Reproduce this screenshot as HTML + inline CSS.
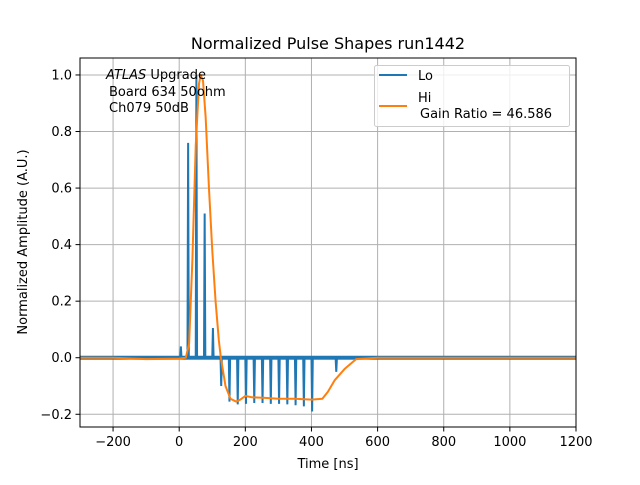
<!DOCTYPE html>
<html><head><meta charset="utf-8"><style>
body{margin:0;background:#fff}
svg text{font-family:"DejaVu Sans","Liberation Sans",sans-serif}
</style></head><body>
<svg id="c" width="640" height="480" xmlns="http://www.w3.org/2000/svg"></svg>
<script>
const xTicks=[-200,0,200,400,600,800,1000,1200];
const yTicks=[-0.2,0.0,0.2,0.4,0.6,0.8,1.0];
const loSpikeT=[5,27,52,77,102,127,152,177,202,227,252,277,302,327,352,377,402,475];
const loSpikeV=[0.04,0.76,1.0,0.51,0.105,-0.1,-0.155,-0.165,-0.163,-0.16,-0.16,-0.163,-0.163,-0.165,-0.168,-0.172,-0.19,-0.05];
const hiT=[-300,-200,-100,0,20,30,40,50,60,65,72,80,90,100,110,120,126,140,155,172,185,200,220,260,300,350,400,433,450,470,500,535,600,800,1000,1200];
const hiV=[0,0,-0.005,-0.003,0,0.05,0.35,0.75,0.97,1.0,0.98,0.85,0.6,0.38,0.2,0.06,0,-0.1,-0.145,-0.155,-0.148,-0.135,-0.14,-0.142,-0.145,-0.145,-0.148,-0.145,-0.12,-0.08,-0.04,-0.005,0,0,0,0];
const L=80,R=576,T=58,B=427;
const X=v=>L+(v+300)/1500*(R-L);
const Y=v=>T+(1.06-v)/1.305*(B-T);
const svg=document.getElementById('c');const NS='http://www.w3.org/2000/svg';
function mk(t,a,p){const e=document.createElementNS(NS,t);for(const k in a)e.setAttribute(k,a[k]);(p||svg).appendChild(e);return e;}
function tx(x,y,s,anchor,size){const e=mk('text',{x:x,y:y,'text-anchor':anchor||'middle','font-size':size||13});e.textContent=s;return e;}
mk('rect',{x:0,y:0,width:640,height:480,fill:'#fff'});
xTicks.forEach(v=>{const g=mk('line',{x1:X(v),x2:X(v),y1:T,y2:B,stroke:'#b0b0b0','stroke-width':1});


mk('line',{x1:X(v),x2:X(v),y1:B,y2:B+4.5,stroke:'#000','stroke-width':1});
const t=tx(X(v),B+19,(v<0?'\u2212'+(-v):v));

});
yTicks.forEach(v=>{const g=mk('line',{x1:L,x2:R,y1:Y(v),y2:Y(v),stroke:'#b0b0b0','stroke-width':1});


mk('line',{x1:L-4.5,x2:L,y1:Y(v),y2:Y(v),stroke:'#000','stroke-width':1});
const t=tx(L-8,Y(v)+4.5,(v<0?'\u2212':'')+Math.abs(v).toFixed(1),'end');

});
const clip=mk('clipPath',{id:'cp'});mk('rect',{x:L,y:T,width:R-L,height:B-T},clip);
let lo=[[-300,0]];loSpikeT.forEach((t,i)=>{lo.push([t-2,0],[t,loSpikeV[i]],[t+2,0]);});lo.push([1200,0]);
const loBand=mk('polyline',{points:lo.map(p=>X(p[0])+','+Y(p[1])).join(' '),fill:'none',stroke:'#1f77b4','stroke-width':2,'clip-path':'url(#cp)'});


const nb=mk('rect',{x:L,y:Y(0.007),width:R-L,height:Y(-0.007)-Y(0.007),fill:'#1f77b4','clip-path':'url(#cp)'});


const hi=mk('polyline',{points:hiT.map((t,i)=>X(t)+','+Y(hiV[i])).join(' '),fill:'none',stroke:'#ff7f0e','stroke-width':2,'stroke-linejoin':'round','clip-path':'url(#cp)'});


mk('rect',{x:L,y:T,width:R-L,height:B-T,fill:'none',stroke:'#000','stroke-width':1,});
</script>
<svg width="640" height="480" style="position:absolute;left:0;top:0" xmlns="http://www.w3.org/2000/svg">
<text x="328" y="49" text-anchor="middle" font-size="16" font-family="DejaVu Sans,sans-serif">Normalized Pulse Shapes run1442</text>
<text x="328" y="468" text-anchor="middle" font-size="13" font-family="DejaVu Sans,sans-serif">Time [ns]</text>
<text x="27" y="242" text-anchor="middle" font-size="13" font-family="DejaVu Sans,sans-serif" transform="rotate(-90 27 242)">Normalized Amplitude (A.U.)</text>
<g font-size="13" font-family="DejaVu Sans,sans-serif">
<text x="106" y="79"><tspan font-style="italic">ATLAS</tspan> Upgrade</text>
<text x="109" y="96">Board 634 50ohm</text>
<text x="109" y="112">Ch079 50dB</text>
</g>
<g font-size="13" font-family="DejaVu Sans,sans-serif">
<rect x="374.5" y="65.5" width="195" height="61" rx="2" fill="#fff" fill-opacity="0.8" stroke="#ccc"/>
<line x1="379" x2="407" y1="75" y2="75" stroke="#1f77b4" stroke-width="2"/>
<text x="418" y="80">Lo</text>
<line x1="379" x2="407" y1="106" y2="106" stroke="#ff7f0e" stroke-width="2"/>
<text x="418" y="102">Hi</text>
<text x="420" y="118">Gain Ratio = 46.586</text>
</g>
</svg>
</body></html>
